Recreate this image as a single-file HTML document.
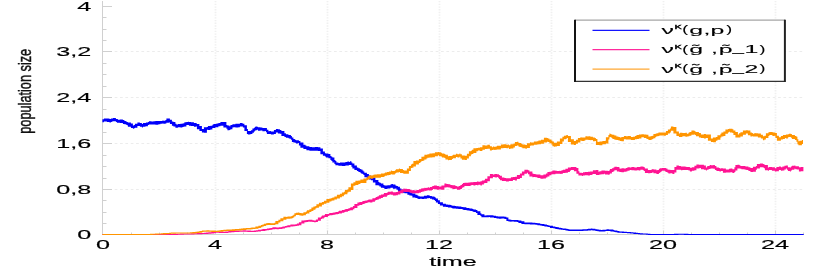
<!DOCTYPE html>
<html><head><meta charset="utf-8"><title>chart</title>
<style>html,body{margin:0;padding:0;background:#fff;}body{width:830px;height:269px;overflow:hidden;font-family:"Liberation Sans",sans-serif;}</style>
</head><body>
<svg width="830" height="269" viewBox="0 0 830 269" style="display:block;will-change:transform;opacity:0.9999">
<rect width="830" height="269" fill="#fff"/>
<g stroke="#ececec" stroke-width="1" stroke-dasharray="2.7 2.65" fill="none"><line x1="104.0" y1="189.5" x2="803" y2="189.5"/><line x1="104.0" y1="143.5" x2="803" y2="143.5"/><line x1="104.0" y1="97.5" x2="803" y2="97.5"/><line x1="104.0" y1="51.5" x2="803" y2="51.5"/></g>
<g stroke="#f0f0f0" stroke-width="1.8" stroke-dasharray="1.35 1.35" fill="none"><line x1="215.5" y1="1" x2="215.5" y2="234.5"/><line x1="327.5" y1="1" x2="327.5" y2="234.5"/><line x1="439.5" y1="1" x2="439.5" y2="234.5"/><line x1="551.5" y1="1" x2="551.5" y2="234.5"/><line x1="663.5" y1="1" x2="663.5" y2="234.5"/><line x1="775.5" y1="1" x2="775.5" y2="234.5"/></g>
<g stroke="#d0d0d0" stroke-width="1" fill="none"><line x1="102.5" y1="1" x2="102.5" y2="235.0"/><line x1="102.5" y1="234.5" x2="804" y2="234.5"/><line x1="102.5" y1="223.5" x2="106.5" y2="223.5"/><line x1="102.5" y1="212.5" x2="106.5" y2="212.5"/><line x1="102.5" y1="200.5" x2="106.5" y2="200.5"/><line x1="102.5" y1="189.5" x2="112.0" y2="189.5"/><line x1="102.5" y1="178.5" x2="106.5" y2="178.5"/><line x1="102.5" y1="166.5" x2="106.5" y2="166.5"/><line x1="102.5" y1="155.5" x2="106.5" y2="155.5"/><line x1="102.5" y1="143.5" x2="112.0" y2="143.5"/><line x1="102.5" y1="132.5" x2="106.5" y2="132.5"/><line x1="102.5" y1="120.5" x2="106.5" y2="120.5"/><line x1="102.5" y1="109.5" x2="106.5" y2="109.5"/><line x1="102.5" y1="97.5" x2="112.0" y2="97.5"/><line x1="102.5" y1="86.5" x2="106.5" y2="86.5"/><line x1="102.5" y1="74.5" x2="106.5" y2="74.5"/><line x1="102.5" y1="63.5" x2="106.5" y2="63.5"/><line x1="102.5" y1="51.5" x2="112.0" y2="51.5"/><line x1="102.5" y1="40.5" x2="106.5" y2="40.5"/><line x1="102.5" y1="29.5" x2="106.5" y2="29.5"/><line x1="102.5" y1="17.5" x2="106.5" y2="17.5"/><line x1="102.5" y1="6.5" x2="112.0" y2="6.5"/><line x1="131.5" y1="234.5" x2="131.5" y2="232.5"/><line x1="159.5" y1="234.5" x2="159.5" y2="232.5"/><line x1="187.5" y1="234.5" x2="187.5" y2="232.5"/><line x1="215.5" y1="234.5" x2="215.5" y2="230.5"/><line x1="243.5" y1="234.5" x2="243.5" y2="232.5"/><line x1="271.5" y1="234.5" x2="271.5" y2="232.5"/><line x1="299.5" y1="234.5" x2="299.5" y2="232.5"/><line x1="327.5" y1="234.5" x2="327.5" y2="230.5"/><line x1="355.5" y1="234.5" x2="355.5" y2="232.5"/><line x1="383.5" y1="234.5" x2="383.5" y2="232.5"/><line x1="411.5" y1="234.5" x2="411.5" y2="232.5"/><line x1="439.5" y1="234.5" x2="439.5" y2="230.5"/><line x1="467.5" y1="234.5" x2="467.5" y2="232.5"/><line x1="495.5" y1="234.5" x2="495.5" y2="232.5"/><line x1="523.5" y1="234.5" x2="523.5" y2="232.5"/><line x1="551.5" y1="234.5" x2="551.5" y2="230.5"/><line x1="579.5" y1="234.5" x2="579.5" y2="232.5"/><line x1="607.5" y1="234.5" x2="607.5" y2="232.5"/><line x1="635.5" y1="234.5" x2="635.5" y2="232.5"/><line x1="663.5" y1="234.5" x2="663.5" y2="230.5"/><line x1="691.5" y1="234.5" x2="691.5" y2="232.5"/><line x1="719.5" y1="234.5" x2="719.5" y2="232.5"/><line x1="747.5" y1="234.5" x2="747.5" y2="232.5"/><line x1="775.5" y1="234.5" x2="775.5" y2="230.5"/><line x1="803.5" y1="234.5" x2="803.5" y2="232.5"/></g>
<clipPath id="pc"><rect x="102" y="0" width="702.2" height="235.1"/></clipPath>
<g stroke="none" clip-path="url(#pc)">
<path fill="#0000fa" d="M102.4 119.2V119.2 H103.9V118.4 H106.9V118.4 H108.9V118.8 H109.9V118.9 H110.9V118.5 H111.9V118.4 H112.9V118.0 H114.9V117.9 H115.9V119.0 H116.9V119.1 H117.9V119.7 H119.9V119.5 H122.9V120.1 H124.4V121.1 H125.9V121.6 H126.9V122.1 H127.9V122.4 H130.9V123.4 H132.9V125.4 H133.9V125.0 H134.9V123.7 H137.4V122.5 H139.9V123.0 H141.9V124.0 H142.9V123.1 H144.9V123.0 H145.9V122.6 H147.9V122.0 H148.9V121.2 H149.9V121.2 H151.4V121.5 H153.4V121.2 H155.4V121.1 H158.4V121.1 H160.4V121.0 H162.4V120.6 H163.4V120.8 H165.4V120.1 H166.4V118.6 H168.9V118.4 H169.9V119.8 H171.9V121.5 H173.4V122.1 H175.4V123.7 H176.4V124.4 H177.9V123.9 H179.4V123.9 H180.4V123.8 H181.4V123.8 H182.4V123.5 H183.4V123.3 H184.4V122.2 H186.4V122.0 H187.9V121.8 H188.9V122.1 H190.9V122.3 H193.9V123.1 H195.9V123.3 H196.9V123.9 H199.4V126.0 H201.9V128.9 H203.9V127.3 H206.9V126.9 H207.9V126.0 H210.4V125.7 H212.4V124.8 H213.4V123.9 H215.4V124.0 H216.4V123.6 H218.4V123.1 H220.4V122.1 H223.4V122.1 H226.4V125.1 H227.4V125.5 H229.4V126.2 H230.4V124.9 H232.4V124.3 H233.4V124.2 H235.4V123.8 H238.4V123.7 H239.9V123.1 H241.9V123.3 H242.9V123.7 H244.4V125.2 H246.9V128.9 H247.9V131.0 H249.9V131.0 H250.9V130.2 H252.4V128.4 H253.9V127.8 H254.9V126.8 H255.9V126.5 H256.9V126.7 H257.9V127.3 H260.4V127.6 H262.4V128.1 H263.4V127.9 H264.9V128.0 H265.9V128.1 H266.9V129.7 H268.4V131.2 H269.4V131.0 H270.9V131.4 H272.9V131.6 H273.9V130.0 H275.9V128.9 H277.9V129.2 H279.9V130.0 H281.4V131.1 H284.4V133.3 H285.9V134.3 H288.4V134.9 H289.4V135.0 H290.9V135.9 H291.9V137.6 H293.4V139.0 H294.9V139.7 H295.9V140.2 H297.9V140.2 H298.9V140.9 H300.4V142.5 H303.4V144.7 H305.4V145.5 H306.4V146.3 H309.4V147.1 H311.9V147.2 H314.9V146.9 H317.9V147.3 H320.4V148.6 H322.9V151.5 H324.9V153.3 H325.9V153.5 H328.4V154.1 H330.4V156.1 H331.4V156.7 H332.4V157.5 H334.4V160.1 H335.4V161.1 H336.4V162.6 H338.4V163.0 H339.9V162.5 H341.9V162.6 H343.9V162.5 H345.4V161.9 H347.4V161.5 H348.9V161.9 H349.9V161.2 H351.4V162.6 H352.4V163.6 H354.4V165.6 H356.9V167.6 H358.4V168.2 H359.9V168.9 H360.9V169.4 H362.4V170.4 H363.4V171.4 H364.4V172.7 H366.9V174.0 H368.9V175.5 H370.9V176.2 H372.9V177.6 H375.4V180.1 H378.4V182.1 H379.4V182.7 H380.9V183.6 H383.4V185.0 H384.4V185.5 H387.4V185.3 H390.4V184.5 H391.4V184.1 H392.9V184.6 H395.4V185.5 H396.4V186.1 H397.9V186.8 H399.9V188.6 H401.4V189.4 H403.4V189.7 H404.4V190.1 H407.4V191.0 H409.4V192.3 H411.4V192.5 H412.4V193.5 H415.4V194.7 H417.4V195.6 H418.4V196.3 H419.9V196.4 H421.9V196.5 H423.9V195.8 H426.9V195.3 H428.9V195.5 H429.9V195.9 H431.9V196.4 H433.9V196.8 H434.9V197.6 H435.9V198.4 H437.9V200.2 H439.9V202.3 H442.9V203.7 H445.9V204.5 H447.9V204.7 H450.4V205.0 H451.4V205.6 H452.4V205.7 H454.9V206.1 H455.9V206.2 H458.4V206.6 H461.4V206.9 H462.4V207.0 H463.4V207.2 H466.4V207.9 H467.4V208.0 H469.4V208.5 H470.4V208.6 H472.4V209.0 H473.4V209.4 H474.9V209.6 H475.9V209.9 H477.4V211.2 H480.4V213.3 H481.4V214.3 H484.4V215.4 H486.4V215.2 H488.9V215.2 H489.9V215.2 H492.9V215.6 H493.9V215.8 H495.9V216.3 H496.9V216.2 H497.9V216.5 H498.9V216.6 H501.4V216.6 H504.4V216.8 H506.4V217.6 H508.4V219.5 H510.4V219.8 H511.4V219.9 H513.9V219.9 H516.9V220.1 H518.4V220.4 H521.4V221.3 H524.4V222.4 H526.9V222.5 H528.9V222.5 H529.9V222.6 H532.4V222.7 H534.4V222.7 H535.4V222.9 H537.4V223.2 H539.9V223.7 H541.4V223.9 H542.4V224.0 H544.4V224.5 H546.9V225.0 H547.9V225.2 H548.9V225.4 H549.9V225.8 H552.9V226.4 H554.4V226.6 H555.4V226.9 H557.4V227.3 H558.9V227.7 H560.9V228.0 H561.9V228.2 H562.9V228.4 H564.9V228.6 H565.9V228.8 H567.4V229.1 H568.4V229.3 H569.4V229.4 H571.4V229.6 H573.4V229.6 H574.9V229.6 H576.9V229.5 H578.9V229.5 H580.9V229.4 H582.4V229.3 H583.4V229.3 H584.9V229.2 H586.9V229.0 H587.9V228.7 H590.9V228.6 H592.4V228.7 H595.4V229.2 H597.4V229.6 H598.9V229.8 H600.9V230.0 H602.4V229.8 H604.9V229.7 H605.9V229.5 H606.9V229.3 H608.9V229.4 H610.4V229.5 H613.4V230.1 H614.4V230.4 H615.4V230.6 H617.4V231.1 H619.4V231.4 H621.9V231.6 H623.9V231.7 H625.9V231.8 H626.9V231.9 H628.9V232.0 H629.9V232.1 H630.9V232.2 H631.9V232.3 H633.4V232.5 H635.9V232.8 H637.9V233.0 H638.9V233.1 H639.9V233.2 H642.9V233.4 H643.9V233.5 H645.9V233.6 H647.9V233.8 H650.4V233.9 H653.4V233.9 H655.9V233.9 H656.9V233.9 H659.4V234.0 H661.9V234.0 H663.9V234.0 H664.9V234.0 H665.9V233.9 H667.4V233.9 H669.4V233.9 H671.9V233.9 H673.9V233.8 H676.4V233.8 H678.4V233.8 H679.4V233.8 H680.4V233.8 H681.4V233.8 H682.4V233.8 H683.9V233.8 H686.4V233.8 H688.4V233.9 H689.4V233.9 H690.4V233.9 H691.4V233.9 H692.9V233.9 H694.4V233.9 H695.9V234.0 H697.4V234.0 H699.4V234.0 H700.4V234.0 H701.4V234.0 H703.4V234.0 H704.4V234.0 H707.4V234.0 H710.4V234.0 H713.4V234.0 H714.4V234.0 H716.9V234.0 H717.9V234.0 H718.9V234.0 H720.4V234.0 H722.4V234.0 H723.4V234.0 H725.9V234.0 H728.9V234.0 H729.9V234.0 H730.9V234.0 H731.9V234.0 H734.9V234.0 H735.9V234.0 H736.9V234.0 H739.4V234.0 H740.4V234.0 H742.9V234.0 H743.9V234.0 H744.9V234.0 H746.9V234.0 H748.4V234.0 H751.4V234.0 H753.4V234.0 H756.4V234.0 H757.4V234.0 H759.9V234.0 H761.9V234.0 H763.9V234.0 H765.9V234.0 H768.4V234.0 H769.4V234.0 H772.4V234.0 H775.4V234.0 H777.4V234.0 H778.9V234.0 H781.4V234.0 H783.9V234.0 H785.4V234.0 H787.4V234.0 H788.4V234.0 H790.4V234.0 H792.4V234.0 H795.4V234.0 H797.9V234.0 H800.4V234.0 H801.9V234.0 H803.7V235.0 H801.9V235.0 H800.4V235.0 H797.9V235.0 H795.4V235.0 H792.4V235.0 H790.4V235.0 H788.4V235.0 H787.4V235.0 H785.4V235.0 H783.9V235.0 H781.4V235.0 H778.9V235.0 H777.4V235.0 H775.4V235.0 H772.4V235.0 H769.4V235.0 H768.4V235.0 H765.9V235.0 H763.9V235.0 H761.9V235.0 H759.9V235.0 H757.4V235.0 H756.4V235.0 H753.4V235.0 H751.4V235.0 H748.4V235.0 H746.9V235.0 H744.9V235.0 H743.9V235.0 H742.9V235.0 H740.4V235.0 H739.4V235.0 H736.9V235.0 H735.9V235.0 H734.9V235.0 H731.9V235.0 H730.9V235.0 H729.9V235.0 H728.9V235.0 H725.9V235.0 H723.4V235.0 H722.4V235.0 H720.4V235.0 H718.9V235.0 H717.9V235.0 H716.9V235.0 H714.4V235.0 H713.4V235.0 H710.4V235.0 H707.4V235.0 H704.4V235.0 H703.4V235.0 H701.4V235.0 H700.4V235.0 H699.4V235.0 H697.4V235.0 H695.9V235.0 H694.4V234.9 H692.9V234.9 H691.4V234.9 H690.4V234.9 H689.4V234.9 H688.4V234.9 H686.4V234.9 H683.9V234.8 H682.4V234.8 H681.4V234.8 H680.4V234.8 H679.4V234.8 H678.4V234.9 H676.4V234.9 H673.9V234.9 H671.9V234.9 H669.4V235.0 H667.4V235.0 H665.9V235.0 H664.9V235.0 H663.9V235.0 H661.9V235.0 H659.4V235.0 H656.9V235.0 H655.9V235.0 H653.4V234.9 H650.4V234.9 H647.9V234.8 H645.9V234.6 H643.9V234.5 H642.9V234.4 H639.9V234.3 H638.9V234.2 H637.9V234.1 H635.9V233.9 H633.4V233.6 H631.9V233.5 H630.9V233.4 H629.9V233.3 H628.9V233.2 H626.9V233.1 H625.9V233.0 H623.9V232.9 H621.9V232.8 H619.4V232.7 H617.4V232.3 H615.4V231.9 H614.4V231.7 H613.4V231.5 H610.4V230.9 H608.9V231.0 H606.9V231.1 H605.9V231.2 H604.9V231.4 H602.4V231.5 H600.9V231.5 H598.9V231.2 H597.4V231.0 H595.4V230.6 H592.4V230.2 H590.9V230.5 H587.9V230.7 H586.9V230.8 H584.9V230.8 H583.4V230.9 H582.4V230.9 H580.9V230.9 H578.9V231.0 H576.9V231.1 H574.9V231.0 H573.4V231.1 H571.4V231.1 H569.4V230.9 H568.4V230.7 H567.4V230.5 H565.9V230.3 H564.9V230.1 H562.9V229.8 H561.9V229.7 H560.9V229.5 H558.9V229.2 H557.4V228.9 H555.4V228.4 H554.4V228.2 H552.9V227.9 H549.9V227.1 H548.9V227.0 H547.9V226.8 H546.9V226.5 H544.4V226.1 H542.4V225.7 H541.4V225.5 H539.9V225.2 H537.4V224.8 H535.4V224.5 H534.4V224.4 H532.4V224.4 H529.9V224.2 H528.9V224.2 H526.9V224.3 H524.4V223.9 H521.4V223.0 H518.4V222.1 H516.9V221.8 H513.9V221.6 H511.4V221.7 H510.4V221.5 H508.4V220.9 H506.4V219.1 H504.4V218.6 H501.4V218.7 H498.9V218.6 H497.9V218.5 H496.9V218.2 H495.9V218.0 H493.9V217.5 H492.9V217.4 H489.9V217.1 H488.9V217.2 H486.4V217.3 H484.4V217.3 H481.4V215.9 H480.4V215.1 H477.4V213.0 H475.9V211.9 H474.9V211.9 H473.4V211.5 H472.4V210.9 H470.4V210.8 H469.4V210.6 H467.4V210.2 H466.4V210.0 H463.4V209.4 H462.4V209.1 H461.4V209.0 H458.4V208.8 H455.9V208.5 H454.9V208.5 H452.4V207.9 H451.4V207.5 H450.4V207.5 H447.9V207.0 H445.9V206.8 H442.9V205.6 H439.9V203.9 H437.9V202.5 H435.9V200.9 H434.9V200.0 H433.9V199.4 H431.9V198.7 H429.9V198.1 H428.9V198.2 H426.9V198.7 H423.9V198.9 H421.9V198.7 H419.9V199.0 H418.4V198.7 H417.4V198.0 H415.4V197.6 H412.4V195.7 H411.4V195.5 H409.4V194.7 H407.4V193.3 H404.4V192.8 H403.4V193.0 H401.4V192.3 H399.9V190.9 H397.9V189.8 H396.4V188.5 H395.4V188.7 H392.9V187.7 H391.4V187.8 H390.4V188.6 H387.4V189.0 H384.4V187.9 H383.4V187.8 H380.9V186.6 H379.4V185.4 H378.4V185.2 H375.4V182.4 H372.9V180.3 H370.9V179.6 H368.9V178.4 H366.9V177.2 H364.4V175.0 H363.4V174.0 H362.4V173.4 H360.9V172.6 H359.9V172.0 H358.4V171.0 H356.9V170.0 H354.4V168.4 H352.4V166.7 H351.4V165.1 H349.9V164.9 H348.9V165.4 H347.4V165.6 H345.4V165.9 H343.9V166.1 H341.9V165.8 H339.9V165.8 H338.4V165.3 H336.4V165.3 H335.4V164.0 H334.4V162.5 H332.4V161.0 H331.4V160.1 H330.4V158.2 H328.4V157.4 H325.9V156.6 H324.9V155.7 H322.9V154.3 H320.4V150.9 H317.9V150.7 H314.9V150.7 H311.9V150.8 H309.4V150.3 H306.4V149.0 H305.4V148.9 H303.4V147.7 H300.4V145.5 H298.9V143.1 H297.9V143.4 H295.9V142.7 H294.9V142.5 H293.4V142.0 H291.9V139.8 H290.9V138.8 H289.4V138.2 H288.4V137.7 H285.9V137.0 H284.4V136.1 H281.4V133.8 H279.9V133.5 H277.9V132.5 H275.9V134.0 H273.9V134.5 H272.9V134.4 H270.9V134.1 H269.4V134.1 H268.4V134.0 H266.9V132.2 H265.9V130.9 H264.9V131.3 H263.4V131.3 H262.4V130.6 H260.4V130.7 H257.9V129.8 H256.9V130.2 H255.9V130.5 H254.9V131.4 H253.9V132.7 H252.4V134.1 H250.9V134.3 H249.9V134.6 H247.9V134.0 H246.9V131.0 H244.4V127.6 H242.9V126.6 H241.9V126.4 H239.9V127.2 H238.4V127.4 H235.4V127.3 H233.4V127.5 H232.4V129.3 H230.4V130.1 H229.4V130.2 H227.4V128.7 H226.4V127.5 H223.4V125.7 H220.4V126.2 H218.4V127.2 H216.4V127.3 H215.4V127.9 H213.4V127.9 H212.4V129.4 H210.4V130.0 H207.9V129.8 H206.9V132.7 H203.9V132.5 H201.9V131.1 H199.4V129.3 H196.9V126.4 H195.9V126.7 H193.9V125.9 H190.9V125.7 H188.9V124.9 H187.9V125.0 H186.4V126.6 H184.4V126.7 H183.4V126.9 H182.4V127.4 H181.4V127.4 H180.4V127.2 H179.4V127.3 H177.9V127.8 H176.4V127.7 H175.4V126.5 H173.4V125.8 H171.9V123.9 H169.9V122.4 H168.9V122.8 H166.4V123.5 H165.4V123.7 H163.4V123.6 H162.4V123.7 H160.4V124.2 H158.4V124.7 H155.4V124.5 H153.4V124.6 H151.4V124.4 H149.9V124.6 H148.9V125.0 H147.9V126.2 H145.9V126.4 H144.9V126.7 H142.9V127.4 H141.9V126.8 H139.9V126.1 H137.4V127.8 H134.9V128.3 H133.9V128.8 H132.9V128.0 H130.9V126.7 H127.9V125.3 H126.9V124.7 H125.9V124.3 H124.4V123.9 H122.9V122.9 H119.9V122.8 H117.9V122.8 H116.9V122.0 H115.9V121.3 H114.9V121.2 H112.9V121.4 H111.9V122.1 H110.9V122.4 H109.9V122.2 H108.9V122.0 H106.9V121.6 H103.9V122.3 H102.4Z"/>
<path fill="#ff1493" d="M102.4 234.0V234.0 H104.4V234.0 H106.4V234.0 H107.4V234.0 H109.4V234.0 H110.9V234.0 H112.4V234.0 H114.9V234.0 H115.9V234.0 H116.9V234.0 H119.9V234.0 H120.9V234.0 H121.9V234.0 H124.9V234.0 H125.9V234.0 H127.9V234.0 H129.9V234.0 H130.9V234.0 H132.9V233.9 H134.9V233.9 H136.9V233.9 H137.9V233.9 H138.9V233.9 H140.4V233.9 H143.4V233.9 H145.9V233.9 H147.4V233.9 H148.4V233.9 H149.4V233.9 H151.4V233.9 H152.9V233.9 H154.4V233.9 H156.9V233.9 H158.9V233.9 H160.4V233.9 H162.4V233.9 H164.4V233.9 H166.9V233.9 H167.9V233.9 H168.9V233.9 H169.9V233.9 H172.9V233.8 H175.9V233.8 H177.9V233.7 H179.9V233.6 H182.9V233.6 H183.9V233.5 H186.4V233.5 H187.4V233.4 H189.9V233.4 H190.9V233.3 H191.9V233.3 H192.9V233.3 H194.4V233.2 H196.9V233.1 H198.9V233.1 H199.9V233.0 H202.4V233.0 H203.9V232.8 H205.9V232.6 H208.4V232.3 H211.4V231.8 H214.4V231.4 H215.9V231.4 H216.9V231.4 H218.9V231.5 H221.9V231.6 H222.9V231.7 H223.9V231.7 H225.4V231.4 H228.4V231.0 H231.4V230.7 H234.4V230.5 H236.4V230.4 H239.4V230.4 H240.4V230.4 H242.9V230.3 H245.9V230.4 H247.4V230.5 H248.9V230.6 H250.9V230.7 H253.9V230.5 H255.9V230.2 H257.9V229.8 H260.9V229.6 H262.4V229.1 H265.4V228.9 H266.9V228.5 H268.9V228.3 H270.4V227.9 H272.4V227.3 H275.4V227.3 H276.4V227.4 H278.9V227.3 H281.4V227.1 H282.4V226.4 H284.9V225.9 H286.4V225.7 H287.4V225.2 H290.4V224.6 H293.4V224.4 H295.4V224.3 H296.9V223.6 H298.9V222.3 H301.4V220.6 H304.4V220.2 H306.4V219.9 H308.4V219.7 H309.4V219.7 H312.4V220.2 H313.9V220.5 H315.9V219.4 H317.9V217.4 H320.9V216.6 H321.9V215.6 H323.9V215.2 H324.9V213.9 H327.9V213.9 H328.9V213.3 H329.9V212.9 H332.4V212.7 H333.4V212.4 H334.9V212.3 H335.9V211.9 H337.9V211.5 H338.9V210.7 H341.9V210.1 H344.4V209.4 H345.4V209.0 H347.9V208.4 H349.4V208.0 H350.4V207.3 H352.9V206.0 H354.4V203.9 H357.4V202.6 H359.4V201.9 H362.4V200.9 H364.4V200.8 H365.4V200.5 H367.4V200.0 H368.4V199.6 H369.9V199.5 H372.4V198.3 H374.9V197.8 H375.9V196.9 H377.4V196.3 H378.9V195.3 H380.9V194.5 H382.9V194.2 H383.9V193.1 H386.9V192.5 H387.9V191.7 H389.4V191.7 H390.9V191.6 H392.9V192.3 H395.9V192.0 H397.9V190.7 H400.4V189.6 H403.4V188.5 H404.4V188.7 H406.9V188.9 H407.9V189.1 H409.9V189.8 H411.4V190.3 H413.4V190.1 H414.4V190.4 H416.4V189.9 H418.9V189.2 H420.9V188.5 H422.4V188.2 H424.4V187.8 H425.4V188.1 H426.4V187.7 H427.9V187.3 H428.9V187.7 H429.9V186.9 H431.9V186.2 H432.9V186.0 H433.9V185.6 H434.9V185.4 H436.9V186.1 H438.9V186.5 H441.4V185.5 H444.4V183.5 H446.4V184.0 H448.4V184.3 H450.4V185.0 H452.4V185.3 H455.4V185.9 H456.9V186.4 H458.9V186.0 H460.4V185.0 H461.9V184.0 H462.9V183.1 H464.4V182.8 H466.4V182.8 H468.4V182.5 H470.4V182.2 H471.4V182.2 H473.4V182.0 H475.4V182.0 H476.9V181.6 H478.4V181.7 H480.4V181.3 H481.9V180.6 H483.9V180.2 H484.9V178.7 H487.4V176.2 H489.9V174.0 H492.9V174.4 H494.4V174.0 H495.4V174.1 H496.9V174.2 H497.9V174.3 H498.9V174.9 H499.9V175.7 H501.9V177.5 H504.4V177.9 H505.9V178.3 H508.9V178.2 H510.9V177.2 H512.9V177.1 H514.9V176.7 H516.9V175.0 H519.9V173.4 H521.9V171.4 H524.4V169.8 H526.9V169.7 H527.9V170.2 H529.4V171.6 H532.4V173.6 H533.4V174.0 H535.4V174.3 H536.4V174.5 H537.4V174.4 H540.4V175.2 H543.4V174.5 H545.9V173.5 H547.4V171.9 H549.4V171.8 H551.4V171.3 H552.4V170.6 H555.4V170.7 H556.9V170.9 H559.4V170.7 H560.4V170.9 H561.4V170.3 H562.9V169.7 H565.4V168.7 H567.9V167.5 H569.9V167.4 H570.9V167.1 H573.9V167.1 H576.4V167.9 H578.4V171.2 H579.4V172.7 H581.9V172.9 H582.9V172.2 H584.9V171.9 H587.9V171.8 H589.9V171.6 H590.9V171.6 H591.9V171.5 H592.9V170.3 H595.9V170.1 H598.4V171.7 H599.4V171.2 H601.4V170.6 H603.9V170.5 H604.9V170.7 H607.9V171.1 H608.9V170.6 H609.9V169.0 H611.9V168.3 H613.4V167.5 H614.4V166.8 H616.9V167.1 H619.4V168.6 H620.4V168.8 H621.4V168.2 H623.9V168.6 H625.9V168.1 H627.4V167.3 H628.9V167.3 H629.9V167.4 H631.4V167.0 H634.4V167.4 H636.9V167.0 H638.9V166.9 H640.4V166.5 H642.9V166.7 H643.9V167.3 H644.9V168.4 H647.9V169.9 H650.4V169.9 H651.4V169.4 H652.4V168.9 H653.4V169.4 H656.4V170.2 H657.4V169.9 H658.9V168.8 H659.9V168.2 H660.9V168.2 H661.9V167.9 H664.9V167.9 H665.9V168.4 H667.4V169.5 H668.4V169.7 H670.4V170.1 H672.4V169.9 H674.4V167.0 H676.4V165.6 H678.9V166.0 H680.9V166.6 H682.4V166.6 H685.4V166.8 H686.4V167.1 H688.4V167.0 H689.9V167.8 H691.9V167.2 H694.4V165.8 H696.4V164.6 H698.9V164.7 H699.9V164.7 H700.9V164.8 H703.9V165.4 H705.9V167.5 H706.9V166.3 H707.9V166.1 H708.9V165.8 H709.9V164.9 H710.9V165.2 H713.4V164.9 H714.9V165.9 H716.4V167.5 H717.9V167.6 H718.9V167.9 H719.9V168.4 H720.9V168.2 H722.9V168.6 H725.9V169.6 H728.9V168.7 H730.4V168.6 H732.4V169.3 H734.4V167.2 H735.4V165.1 H737.4V164.7 H739.4V165.3 H740.4V165.9 H741.4V166.0 H742.9V166.1 H744.4V166.1 H745.4V166.5 H746.4V166.6 H748.4V167.3 H750.4V167.9 H752.9V166.7 H755.9V165.9 H756.9V164.1 H759.9V163.5 H762.9V164.1 H763.9V164.5 H764.9V165.1 H767.9V167.4 H768.9V167.0 H771.9V167.2 H774.9V168.2 H776.4V166.9 H778.9V166.6 H780.9V167.2 H782.4V166.4 H784.4V165.8 H785.9V165.4 H786.9V165.5 H787.9V167.2 H789.9V167.5 H790.9V166.5 H791.9V165.7 H794.4V165.4 H795.4V166.3 H796.9V166.3 H798.9V167.2 H800.9V167.1 H803.4V171.2 H800.9V171.5 H798.9V169.5 H796.9V169.3 H795.4V168.8 H794.4V169.7 H791.9V170.4 H790.9V171.5 H789.9V170.9 H787.9V169.8 H786.9V168.5 H785.9V169.5 H784.4V170.6 H782.4V170.8 H780.9V170.0 H778.9V171.3 H776.4V171.5 H774.9V170.8 H771.9V170.1 H768.9V170.7 H767.9V170.2 H764.9V168.2 H763.9V167.4 H762.9V167.3 H759.9V168.6 H756.9V169.7 H755.9V171.7 H752.9V171.9 H750.4V171.0 H748.4V170.0 H746.4V169.7 H745.4V169.6 H744.4V169.3 H742.9V169.3 H741.4V168.7 H740.4V168.5 H739.4V168.4 H737.4V170.6 H735.4V171.9 H734.4V173.1 H732.4V172.3 H730.4V172.6 H728.9V172.5 H725.9V172.7 H722.9V171.1 H720.9V171.6 H719.9V171.2 H718.9V170.9 H717.9V170.9 H716.4V170.0 H714.9V168.8 H713.4V168.4 H710.9V168.7 H709.9V168.9 H708.9V169.6 H707.9V169.8 H706.9V170.6 H705.9V169.7 H703.9V169.3 H700.9V168.1 H699.9V168.2 H698.9V168.6 H696.4V170.2 H694.4V170.7 H691.9V171.5 H689.9V170.5 H688.4V170.0 H686.4V170.0 H685.4V169.9 H682.4V170.3 H680.9V169.8 H678.9V169.7 H676.4V172.5 H674.4V174.1 H672.4V173.3 H670.4V173.5 H668.4V172.8 H667.4V172.1 H665.9V171.4 H664.9V170.8 H661.9V171.4 H660.9V172.2 H659.9V172.9 H658.9V173.9 H657.4V173.9 H656.4V173.2 H653.4V172.3 H652.4V173.0 H651.4V172.9 H650.4V173.2 H647.9V172.9 H644.9V171.0 H643.9V170.2 H642.9V169.7 H640.4V170.6 H638.9V170.3 H636.9V170.5 H634.4V170.3 H631.4V170.1 H629.9V170.5 H628.9V170.7 H627.4V171.5 H625.9V171.7 H623.9V172.2 H621.4V172.1 H620.4V172.1 H619.4V171.4 H616.9V170.2 H614.4V171.2 H613.4V172.1 H611.9V173.4 H609.9V174.5 H608.9V174.8 H607.9V174.4 H604.9V173.7 H603.9V174.3 H601.4V174.6 H599.4V175.1 H598.4V175.0 H595.9V174.1 H592.9V174.5 H591.9V175.0 H590.9V174.9 H589.9V175.5 H587.9V175.3 H584.9V175.4 H582.9V176.1 H581.9V175.6 H579.4V175.6 H578.4V173.7 H576.4V171.2 H573.9V170.1 H570.9V170.7 H569.9V172.0 H567.9V172.8 H565.4V172.9 H562.9V173.7 H561.4V174.0 H560.4V173.8 H559.4V173.8 H556.9V173.7 H555.4V174.2 H552.4V174.3 H551.4V175.2 H549.4V176.5 H547.4V177.6 H545.9V178.6 H543.4V178.8 H540.4V178.0 H537.4V177.3 H536.4V177.3 H535.4V176.9 H533.4V177.2 H532.4V176.4 H529.4V174.2 H527.9V172.7 H526.9V173.8 H524.4V175.6 H521.9V178.1 H519.9V179.1 H516.9V180.5 H514.9V180.1 H512.9V180.9 H510.9V181.1 H508.9V181.4 H505.9V181.1 H504.4V181.1 H501.9V180.2 H499.9V178.9 H498.9V177.8 H497.9V177.1 H496.9V177.5 H495.4V177.2 H494.4V177.1 H492.9V178.3 H489.9V181.2 H487.4V183.0 H484.9V183.3 H483.9V184.6 H481.9V185.4 H480.4V184.8 H478.4V185.3 H476.9V185.1 H475.4V185.5 H473.4V185.1 H471.4V185.5 H470.4V185.9 H468.4V185.9 H466.4V186.1 H464.4V187.3 H462.9V187.8 H461.9V189.1 H460.4V189.7 H458.9V189.7 H456.9V188.8 H455.4V188.9 H452.4V188.2 H450.4V187.6 H448.4V187.3 H446.4V187.6 H444.4V189.7 H441.4V189.4 H438.9V189.8 H436.9V189.2 H434.9V189.3 H433.9V189.1 H432.9V189.9 H431.9V190.5 H429.9V190.6 H428.9V190.2 H427.9V190.5 H426.4V191.1 H425.4V190.7 H424.4V191.4 H422.4V192.0 H420.9V192.7 H418.9V193.2 H416.4V193.3 H414.4V193.2 H413.4V193.2 H411.4V192.8 H409.9V192.0 H407.9V191.9 H406.9V191.9 H404.4V191.7 H403.4V193.3 H400.4V194.6 H397.9V195.3 H395.9V195.5 H392.9V194.8 H390.9V194.5 H389.4V195.1 H387.9V195.4 H386.9V196.7 H383.9V197.1 H382.9V198.0 H380.9V198.7 H378.9V199.5 H377.4V200.0 H375.9V200.4 H374.9V201.8 H372.4V202.5 H369.9V202.3 H368.4V202.4 H367.4V203.0 H365.4V203.5 H364.4V203.9 H362.4V205.1 H359.4V205.8 H357.4V208.0 H354.4V209.2 H352.9V210.2 H350.4V210.4 H349.4V211.1 H347.9V211.8 H345.4V211.9 H344.4V212.7 H341.9V213.5 H338.9V214.0 H337.9V214.3 H335.9V214.5 H334.9V214.8 H333.4V215.1 H332.4V215.3 H329.9V215.5 H328.9V215.9 H327.9V217.1 H324.9V217.5 H323.9V218.5 H321.9V219.0 H320.9V220.8 H317.9V222.1 H315.9V222.3 H313.9V222.1 H312.4V221.8 H309.4V221.6 H308.4V222.0 H306.4V222.3 H304.4V223.5 H301.4V225.2 H298.9V225.8 H296.9V226.0 H295.4V226.2 H293.4V226.6 H290.4V227.3 H287.4V227.5 H286.4V227.8 H284.9V228.5 H282.4V228.9 H281.4V229.1 H278.9V229.2 H276.4V228.9 H275.4V229.3 H272.4V229.7 H270.4V230.0 H268.9V230.3 H266.9V230.5 H265.4V231.0 H262.4V231.1 H260.9V231.5 H257.9V231.8 H255.9V232.1 H253.9V232.1 H250.9V232.0 H248.9V231.9 H247.4V231.8 H245.9V231.7 H242.9V231.8 H240.4V231.8 H239.4V231.9 H236.4V232.0 H234.4V232.3 H231.4V232.6 H228.4V233.0 H225.4V233.0 H223.9V233.0 H222.9V232.9 H221.9V232.9 H218.9V232.8 H216.9V232.7 H215.9V233.0 H214.4V233.4 H211.4V233.7 H208.4V233.9 H205.9V234.1 H203.9V234.1 H202.4V234.2 H199.9V234.2 H198.9V234.3 H196.9V234.3 H194.4V234.4 H192.9V234.4 H191.9V234.4 H190.9V234.5 H189.9V234.5 H187.4V234.6 H186.4V234.6 H183.9V234.7 H182.9V234.7 H179.9V234.8 H177.9V234.9 H175.9V234.9 H172.9V234.9 H169.9V234.9 H168.9V234.9 H167.9V234.9 H166.9V234.9 H164.4V234.9 H162.4V234.9 H160.4V234.9 H158.9V234.9 H156.9V234.9 H154.4V234.9 H152.9V234.9 H151.4V234.9 H149.4V234.9 H148.4V234.9 H147.4V234.9 H145.9V235.0 H143.4V235.0 H140.4V235.0 H138.9V235.0 H137.9V235.0 H136.9V235.0 H134.9V235.0 H132.9V235.0 H130.9V235.0 H129.9V235.0 H127.9V235.0 H125.9V235.0 H124.9V235.0 H121.9V235.0 H120.9V235.0 H119.9V235.0 H116.9V235.0 H115.9V235.0 H114.9V235.0 H112.4V235.0 H110.9V235.0 H109.4V235.0 H107.4V235.0 H106.4V235.0 H104.4V235.0 H102.4Z"/>
<path fill="#ff9500" d="M102.4 234.0V234.0 H104.4V234.0 H106.9V234.0 H109.4V234.0 H110.4V234.0 H113.4V234.0 H116.4V234.0 H117.9V234.0 H119.9V233.9 H122.9V233.9 H124.4V233.9 H125.4V233.9 H126.9V233.9 H127.9V233.9 H129.9V233.9 H131.9V233.9 H134.4V233.9 H135.9V233.9 H137.9V233.9 H139.9V233.9 H140.9V233.9 H142.9V233.9 H144.9V233.9 H147.4V233.9 H149.9V233.8 H152.9V233.7 H154.9V233.6 H157.9V233.6 H158.9V233.5 H160.9V233.3 H162.9V233.1 H165.9V232.9 H168.9V232.8 H169.9V232.7 H170.9V232.6 H172.4V232.5 H173.4V232.4 H175.9V232.4 H176.9V232.4 H177.9V232.4 H179.9V232.4 H181.4V232.4 H182.4V232.4 H184.4V232.4 H185.4V232.4 H186.4V232.4 H187.4V232.4 H188.9V232.4 H189.9V232.3 H190.9V232.2 H192.4V232.0 H195.4V231.8 H197.4V231.5 H199.4V230.9 H201.9V230.5 H203.4V230.4 H206.4V230.3 H209.4V230.4 H211.4V230.5 H212.9V230.6 H215.4V230.7 H217.4V230.5 H219.4V230.3 H220.9V230.0 H223.4V229.7 H226.4V229.6 H228.9V229.5 H229.9V229.5 H230.9V229.4 H231.9V229.3 H234.9V229.1 H236.4V229.0 H237.4V228.9 H238.9V228.8 H240.9V228.6 H242.9V228.2 H245.9V228.1 H246.9V228.0 H248.4V227.9 H250.4V227.8 H251.4V227.6 H252.9V227.4 H255.4V226.4 H258.4V225.7 H260.9V225.1 H262.4V224.5 H263.9V223.7 H265.9V223.2 H267.4V223.1 H268.4V223.1 H270.4V223.3 H271.4V223.3 H274.4V222.8 H275.4V221.0 H278.4V219.7 H280.4V218.3 H283.4V216.8 H286.4V216.9 H287.4V216.6 H290.4V216.5 H291.4V216.1 H292.4V215.4 H293.4V214.7 H294.4V213.3 H295.9V212.7 H297.9V212.6 H299.4V213.1 H301.4V213.3 H303.4V212.2 H305.9V211.5 H306.9V210.2 H309.4V209.2 H311.4V207.5 H313.4V206.5 H315.4V206.0 H316.4V204.2 H318.9V202.8 H321.9V201.9 H323.9V200.7 H326.4V199.1 H329.4V198.5 H331.4V198.0 H332.4V197.6 H334.4V196.4 H336.9V194.7 H339.9V193.7 H341.9V192.6 H343.9V191.8 H344.9V189.9 H347.4V189.2 H348.4V187.2 H350.9V183.6 H353.4V182.2 H355.4V180.8 H358.4V180.4 H360.4V179.5 H363.4V178.4 H366.4V177.5 H367.4V176.6 H368.4V175.8 H369.9V175.2 H371.4V175.6 H372.4V175.3 H373.4V174.7 H374.4V174.4 H376.9V174.3 H378.4V174.2 H380.9V173.5 H383.9V173.3 H384.9V172.5 H386.9V171.9 H388.9V171.4 H389.9V171.5 H390.9V170.6 H391.9V170.9 H394.9V170.3 H395.9V169.2 H396.9V169.2 H398.9V168.4 H399.9V169.0 H402.9V169.9 H403.9V170.6 H406.9V168.6 H408.9V165.9 H410.9V164.5 H411.9V163.7 H413.4V161.1 H415.9V160.4 H418.9V159.1 H420.4V158.9 H421.4V156.8 H423.4V156.6 H424.4V154.7 H426.4V154.7 H427.4V154.2 H429.4V153.6 H432.4V153.3 H434.9V152.3 H437.9V152.1 H438.9V152.2 H440.9V152.7 H441.9V153.6 H444.4V154.1 H445.4V154.8 H447.9V156.3 H448.9V156.1 H451.9V155.6 H452.9V154.7 H455.9V153.7 H457.4V154.3 H459.4V153.5 H460.4V154.3 H461.9V155.4 H464.9V155.8 H466.9V153.8 H468.9V151.3 H470.9V150.7 H471.9V149.8 H473.4V148.3 H476.4V148.1 H477.9V147.7 H479.9V147.3 H482.4V145.3 H484.9V145.5 H487.4V144.8 H489.9V146.3 H491.9V147.2 H492.9V146.4 H494.4V147.0 H495.4V146.5 H496.9V145.8 H497.9V145.7 H500.9V144.4 H503.4V144.2 H506.4V144.8 H507.9V144.4 H508.9V145.2 H510.4V144.2 H513.4V143.5 H514.9V141.9 H516.9V141.7 H518.4V142.8 H519.4V143.1 H521.4V143.9 H522.4V144.4 H525.4V145.1 H526.9V143.2 H529.9V142.3 H530.9V142.6 H532.9V142.5 H533.9V141.4 H536.9V141.3 H538.4V140.6 H540.9V139.8 H543.9V137.8 H546.9V138.1 H547.9V138.5 H549.4V139.5 H551.4V140.6 H552.4V141.6 H553.9V142.7 H554.9V142.8 H556.9V141.6 H559.9V138.6 H562.4V136.7 H563.9V135.7 H565.9V135.3 H566.9V135.0 H567.9V136.0 H570.9V139.3 H573.9V140.9 H575.9V139.8 H577.9V137.9 H580.4V137.3 H581.4V137.4 H584.4V137.4 H585.4V136.3 H587.4V136.6 H588.4V136.3 H590.4V136.8 H591.4V136.8 H592.9V137.4 H594.9V137.9 H595.9V139.0 H597.4V141.8 H598.4V141.9 H599.4V141.4 H602.4V141.1 H604.9V140.7 H605.9V137.3 H608.4V135.0 H609.4V133.6 H610.4V133.9 H611.4V134.4 H612.4V134.7 H614.4V135.5 H616.4V136.4 H618.4V136.9 H619.9V137.5 H621.4V137.0 H623.9V136.0 H625.9V136.2 H627.9V136.0 H630.9V137.1 H632.9V136.7 H634.9V136.1 H635.9V135.4 H636.9V135.0 H638.9V134.6 H641.4V134.2 H643.9V134.4 H646.4V134.7 H648.4V136.5 H650.4V136.2 H651.4V135.9 H652.4V135.7 H653.4V133.9 H655.4V133.7 H656.4V133.2 H658.4V132.4 H659.4V132.4 H661.9V132.4 H663.9V132.4 H665.9V131.1 H667.9V129.4 H669.9V128.6 H670.9V126.4 H673.4V126.9 H676.4V131.5 H678.9V133.4 H679.9V132.7 H682.4V132.9 H685.4V132.8 H686.9V133.7 H688.4V132.7 H689.4V132.0 H691.4V130.5 H693.9V130.8 H694.9V131.5 H695.9V132.1 H698.9V133.1 H700.9V134.5 H703.9V134.1 H705.9V134.4 H707.9V134.6 H710.9V138.4 H712.9V137.6 H715.9V137.1 H717.4V135.2 H720.4V133.8 H721.4V132.4 H723.4V131.6 H725.4V129.6 H727.9V129.0 H728.9V128.7 H729.9V128.7 H732.4V129.3 H733.4V130.6 H735.4V132.1 H737.9V134.6 H738.9V133.3 H740.4V132.2 H742.9V130.4 H745.9V130.3 H747.9V130.6 H750.4V132.6 H751.9V133.0 H752.9V133.7 H754.4V133.1 H755.4V133.3 H757.9V133.6 H760.9V134.7 H762.9V136.2 H764.4V135.7 H765.9V133.2 H768.4V132.2 H769.4V131.9 H772.4V132.2 H773.4V132.5 H774.4V132.5 H775.4V133.0 H776.9V135.8 H778.9V137.2 H780.9V135.9 H782.9V134.9 H784.9V135.0 H785.9V134.6 H787.9V134.2 H788.9V133.7 H790.9V134.1 H791.9V135.1 H794.9V136.1 H796.4V136.8 H797.4V139.2 H798.4V141.2 H799.4V140.7 H801.9V140.0 H803.0V143.9 H801.9V145.3 H799.4V145.3 H798.4V144.2 H797.4V141.8 H796.4V140.1 H794.9V139.1 H791.9V137.8 H790.9V137.1 H788.9V137.2 H787.9V138.5 H785.9V138.1 H784.9V139.0 H782.9V139.5 H780.9V140.7 H778.9V140.8 H776.9V137.9 H775.4V135.7 H774.4V136.0 H773.4V135.9 H772.4V135.0 H769.4V136.1 H768.4V138.1 H765.9V139.6 H764.4V140.2 H762.9V138.6 H760.9V137.6 H757.9V136.4 H755.4V136.5 H754.4V136.4 H752.9V136.3 H751.9V136.4 H750.4V135.2 H747.9V133.6 H745.9V134.7 H742.9V136.5 H740.4V137.5 H738.9V137.6 H737.9V137.6 H735.4V135.1 H733.4V133.1 H732.4V132.6 H729.9V131.8 H728.9V132.4 H727.9V133.8 H725.4V136.0 H723.4V136.6 H721.4V137.6 H720.4V139.8 H717.4V140.7 H715.9V142.2 H712.9V142.1 H710.9V140.8 H707.9V138.1 H705.9V138.4 H703.9V138.1 H700.9V137.4 H698.9V136.3 H695.9V135.0 H694.9V134.6 H693.9V134.8 H691.4V135.8 H689.4V136.2 H688.4V136.5 H686.9V136.7 H685.4V136.2 H682.4V136.9 H679.9V137.0 H678.9V136.0 H676.4V133.5 H673.4V130.8 H670.9V132.5 H669.9V133.4 H667.9V134.9 H665.9V135.7 H663.9V135.6 H661.9V135.5 H659.4V136.0 H658.4V136.3 H656.4V137.1 H655.4V138.2 H653.4V138.9 H652.4V139.4 H651.4V140.1 H650.4V140.1 H648.4V139.0 H646.4V137.9 H643.9V137.2 H641.4V138.4 H638.9V138.9 H636.9V139.3 H635.9V139.3 H634.9V140.1 H632.9V139.9 H630.9V139.5 H627.9V139.6 H625.9V139.2 H623.9V141.2 H621.4V141.1 H619.9V140.5 H618.4V139.9 H616.4V139.8 H614.4V138.9 H612.4V138.0 H611.4V137.1 H610.4V137.3 H609.4V139.5 H608.4V143.6 H605.9V144.2 H604.9V144.3 H602.4V145.2 H599.4V145.1 H598.4V144.9 H597.4V144.9 H595.9V141.1 H594.9V141.2 H592.9V140.0 H591.4V140.2 H590.4V140.1 H588.4V139.8 H587.4V139.8 H585.4V140.4 H584.4V141.1 H581.4V140.5 H580.4V142.4 H577.9V143.7 H575.9V145.0 H573.9V144.6 H570.9V142.1 H567.9V138.1 H566.9V138.8 H565.9V139.3 H563.9V141.4 H562.4V144.1 H559.9V145.9 H556.9V146.4 H554.9V146.8 H553.9V146.2 H552.4V144.5 H551.4V143.2 H549.4V141.9 H547.9V141.7 H546.9V142.4 H543.9V143.7 H540.9V144.3 H538.4V144.6 H536.9V144.8 H533.9V145.5 H532.9V145.6 H530.9V145.8 H529.9V148.0 H526.9V148.7 H525.4V148.3 H522.4V147.4 H521.4V147.1 H519.4V146.4 H518.4V145.4 H516.9V146.1 H514.9V147.5 H513.4V148.5 H510.4V149.0 H508.9V147.7 H507.9V148.2 H506.4V147.9 H503.4V148.3 H500.9V149.4 H497.9V149.4 H496.9V149.8 H495.4V150.1 H494.4V149.8 H492.9V150.1 H491.9V150.4 H489.9V148.7 H487.4V149.1 H484.9V149.8 H482.4V150.9 H479.9V150.6 H477.9V151.3 H476.4V153.1 H473.4V154.1 H471.9V154.4 H470.9V156.3 H468.9V158.6 H466.9V160.0 H464.9V159.8 H461.9V158.5 H460.4V156.8 H459.4V157.5 H457.4V157.1 H455.9V158.3 H452.9V158.9 H451.9V160.0 H448.9V160.3 H447.9V159.6 H445.4V157.9 H444.4V157.5 H441.9V156.4 H440.9V156.2 H438.9V155.2 H437.9V156.2 H434.9V157.3 H432.4V157.5 H429.4V157.7 H427.4V158.4 H426.4V159.4 H424.4V160.5 H423.4V161.1 H421.4V162.1 H420.4V163.1 H418.9V164.5 H415.9V166.4 H413.4V167.8 H411.9V168.1 H410.9V171.0 H408.9V173.8 H406.9V173.7 H403.9V173.5 H402.9V173.0 H399.9V172.0 H398.9V172.6 H396.9V172.7 H395.9V173.6 H394.9V174.5 H391.9V174.2 H390.9V174.7 H389.9V175.1 H388.9V175.3 H386.9V175.8 H384.9V176.4 H383.9V176.9 H380.9V177.8 H378.4V177.7 H376.9V177.8 H374.4V178.0 H373.4V178.6 H372.4V178.9 H371.4V178.6 H369.9V179.2 H368.4V180.1 H367.4V180.6 H366.4V182.9 H363.4V183.0 H360.4V183.9 H358.4V185.0 H355.4V185.7 H353.4V189.9 H350.9V191.8 H348.4V192.6 H347.4V194.2 H344.9V194.7 H343.9V196.3 H341.9V197.2 H339.9V198.6 H336.9V199.6 H334.4V200.4 H332.4V200.8 H331.4V201.6 H329.4V202.7 H326.4V203.8 H323.9V204.8 H321.9V206.5 H318.9V207.8 H316.4V208.6 H315.4V209.7 H313.4V210.9 H311.4V212.1 H309.4V213.4 H306.9V214.1 H305.9V215.3 H303.4V215.7 H301.4V215.5 H299.4V215.0 H297.9V215.1 H295.9V216.3 H294.4V217.2 H293.4V218.0 H292.4V218.6 H291.4V218.6 H290.4V218.7 H287.4V218.8 H286.4V219.7 H283.4V221.2 H280.4V222.5 H278.4V224.2 H275.4V225.0 H274.4V225.0 H271.4V225.0 H270.4V225.0 H268.4V224.9 H267.4V225.3 H265.9V226.0 H263.9V226.6 H262.4V227.2 H260.9V227.9 H258.4V228.8 H255.4V229.1 H252.9V229.3 H251.4V229.4 H250.4V229.5 H248.4V229.6 H246.9V229.7 H245.9V229.9 H242.9V230.2 H240.9V230.4 H238.9V230.5 H237.4V230.6 H236.4V230.8 H234.9V230.9 H231.9V230.9 H230.9V231.0 H229.9V231.0 H228.9V231.1 H226.4V231.3 H223.4V231.7 H220.9V231.8 H219.4V232.0 H217.4V232.1 H215.4V232.1 H212.9V231.9 H211.4V231.8 H209.4V231.8 H206.4V231.8 H203.4V232.2 H201.9V232.7 H199.4V233.1 H197.4V233.2 H195.4V233.4 H192.4V233.5 H190.9V233.5 H189.9V233.6 H188.9V233.6 H187.4V233.6 H186.4V233.6 H185.4V233.6 H184.4V233.6 H182.4V233.6 H181.4V233.6 H179.9V233.6 H177.9V233.6 H176.9V233.6 H175.9V233.7 H173.4V233.7 H172.4V233.8 H170.9V233.9 H169.9V234.0 H168.9V234.2 H165.9V234.4 H162.9V234.5 H160.9V234.6 H158.9V234.7 H157.9V234.8 H154.9V234.8 H152.9V234.9 H149.9V234.9 H147.4V234.9 H144.9V234.9 H142.9V234.9 H140.9V234.9 H139.9V234.9 H137.9V234.9 H135.9V234.9 H134.4V234.9 H131.9V234.9 H129.9V235.0 H127.9V235.0 H126.9V235.0 H125.4V235.0 H124.4V235.0 H122.9V235.0 H119.9V235.0 H117.9V235.0 H116.4V235.0 H113.4V235.0 H110.4V235.0 H109.4V235.0 H106.9V235.0 H104.4V235.0 H102.4Z"/>
</g>
<g font-family="'Liberation Sans', sans-serif" fill="#000" stroke="#000" stroke-width="0.14">
<text transform="translate(91.3 10.9) scale(2.000 1)" text-anchor="end" font-size="12.60" >4</text>
<text transform="translate(91.3 55.9) scale(2.000 1)" text-anchor="end" font-size="12.60" >3,2</text>
<text transform="translate(91.3 101.9) scale(2.000 1)" text-anchor="end" font-size="12.60" >2,4</text>
<text transform="translate(91.3 147.9) scale(2.000 1)" text-anchor="end" font-size="12.60" >1,6</text>
<text transform="translate(91.3 193.9) scale(2.000 1)" text-anchor="end" font-size="12.60" >0,8</text>
<text transform="translate(91.3 238.9) scale(2.000 1)" text-anchor="end" font-size="12.60" >0</text>
<text transform="translate(103.0 248.9) scale(2.000 1)" text-anchor="middle" font-size="12.60" >0</text>
<text transform="translate(215.0 248.9) scale(2.000 1)" text-anchor="middle" font-size="12.60" >4</text>
<text transform="translate(327.0 248.9) scale(2.000 1)" text-anchor="middle" font-size="12.60" >8</text>
<text transform="translate(439.0 248.9) scale(2.000 1)" text-anchor="middle" font-size="12.60" >12</text>
<text transform="translate(551.0 248.9) scale(2.000 1)" text-anchor="middle" font-size="12.60" >16</text>
<text transform="translate(663.0 248.9) scale(2.000 1)" text-anchor="middle" font-size="12.60" >20</text>
<text transform="translate(775.0 248.9) scale(2.000 1)" text-anchor="middle" font-size="12.60" >24</text>
<text transform="translate(453.0 265.6) scale(2.000 1)" text-anchor="middle" font-size="12.60" >time</text>
</g>
<text transform="translate(31.3 91.3) rotate(-90) scale(1.01 1.5)" stroke="#111" stroke-width="0.3" text-anchor="middle" font-family="'Liberation Sans', sans-serif" font-size="12.6" fill="#111">population size</text>
<rect x="575" y="20.2" width="210" height="61" fill="#fff"/>
<line x1="575" y1="20.2" x2="785" y2="20.2" stroke="#a6a6a6" stroke-width="1.3"/>
<line x1="575" y1="81.3" x2="785" y2="81.3" stroke="#333" stroke-width="1.3"/>
<line x1="575" y1="19.7" x2="575" y2="82" stroke="#141414" stroke-width="2"/>
<line x1="784.9" y1="19.7" x2="784.9" y2="82" stroke="#222" stroke-width="2"/>
<line x1="592.5" y1="30.4" x2="649.5" y2="30.4" stroke="#1414ff" stroke-width="1.25"/>
<line x1="592.5" y1="49.6" x2="649.5" y2="49.6" stroke="#ff2a9d" stroke-width="1.25"/>
<line x1="592.5" y1="69.0" x2="649.5" y2="69.0" stroke="#ffa733" stroke-width="1.25"/>
<g font-family="'Liberation Sans', sans-serif" fill="#000" stroke="#000" stroke-width="0.1">
<text transform="translate(661.6 33.7) scale(2.180 1)" text-anchor="start" font-size="11.40" >&#957;</text><text transform="translate(674.6 29.1) scale(1.750 1)" text-anchor="start" font-size="6.20" stroke="#000" stroke-width="0.35">K</text><text transform="translate(682.3 33.1) scale(1.700 1)" text-anchor="start" font-size="10.40" >(</text><text transform="translate(689.3 33.7) scale(2.180 1)" text-anchor="start" font-size="11.40" >g</text><text transform="translate(703.6 33.7) scale(2.180 1)" text-anchor="start" font-size="11.40" >,</text><text transform="translate(710.6 33.7) scale(2.180 1)" text-anchor="start" font-size="11.40" >p</text><text transform="translate(726.2 33.1) scale(1.700 1)" text-anchor="start" font-size="10.40" >)</text>
<text transform="translate(661.6 53.1) scale(2.180 1)" text-anchor="start" font-size="11.40" >&#957;</text><text transform="translate(674.6 48.5) scale(1.750 1)" text-anchor="start" font-size="6.20" stroke="#000" stroke-width="0.35">K</text><text transform="translate(682.3 52.5) scale(1.700 1)" text-anchor="start" font-size="10.40" >(</text><text transform="translate(689.3 53.1) scale(2.180 1)" text-anchor="start" font-size="11.40" >g</text><text transform="translate(711.0 53.1) scale(2.180 1)" text-anchor="start" font-size="11.40" >,</text><text transform="translate(718.8 53.1) scale(2.180 1)" text-anchor="start" font-size="11.40" >p</text><text transform="translate(732.4 52.3) scale(1.800 1)" text-anchor="start" font-size="11.40" >_</text><text transform="translate(744.6 53.1) scale(2.180 1)" text-anchor="start" font-size="11.40" >1</text><text transform="translate(759.6 52.5) scale(1.700 1)" text-anchor="start" font-size="10.40" >)</text><path d="M692.0 45.6 q1.9 -1.1 3.75 -0.35 t3.75 -0.45" fill="none" stroke="#111" stroke-width="1.05"/><path d="M722.2 45.6 q1.9 -1.1 3.75 -0.35 t3.75 -0.45" fill="none" stroke="#111" stroke-width="1.05"/>
<text transform="translate(661.6 72.5) scale(2.180 1)" text-anchor="start" font-size="11.40" >&#957;</text><text transform="translate(674.6 67.9) scale(1.750 1)" text-anchor="start" font-size="6.20" stroke="#000" stroke-width="0.35">K</text><text transform="translate(682.3 71.9) scale(1.700 1)" text-anchor="start" font-size="10.40" >(</text><text transform="translate(689.3 72.5) scale(2.180 1)" text-anchor="start" font-size="11.40" >g</text><text transform="translate(711.0 72.5) scale(2.180 1)" text-anchor="start" font-size="11.40" >,</text><text transform="translate(718.8 72.5) scale(2.180 1)" text-anchor="start" font-size="11.40" >p</text><text transform="translate(732.4 71.7) scale(1.800 1)" text-anchor="start" font-size="11.40" >_</text><text transform="translate(744.6 72.5) scale(2.180 1)" text-anchor="start" font-size="11.40" >2</text><text transform="translate(759.6 71.9) scale(1.700 1)" text-anchor="start" font-size="10.40" >)</text><path d="M692.0 65.0 q1.9 -1.1 3.75 -0.35 t3.75 -0.45" fill="none" stroke="#111" stroke-width="1.05"/><path d="M722.2 65.0 q1.9 -1.1 3.75 -0.35 t3.75 -0.45" fill="none" stroke="#111" stroke-width="1.05"/>
</g>
</svg>
</body></html>
